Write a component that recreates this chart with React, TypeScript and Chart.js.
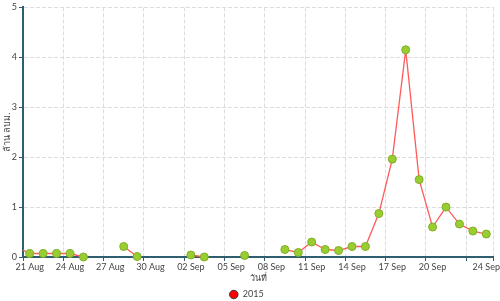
import React, { useEffect, useRef } from 'react';
import { Chart, registerables } from 'chart.js';

Chart.register(...registerables);

// ---- data ----
const SERIES_NAME = '2015';
const AXIS_START = '2015-08-21';
const AXIS_END = '2015-09-25';

const DATES: string[] = [
  '2015-08-20', '2015-08-21', '2015-08-22', '2015-08-23', '2015-08-24', '2015-08-25',
  '2015-08-26', '2015-08-27', '2015-08-28', '2015-08-29', '2015-08-30', '2015-08-31',
  '2015-09-01', '2015-09-02', '2015-09-03', '2015-09-04', '2015-09-05', '2015-09-06',
  '2015-09-07', '2015-09-08', '2015-09-09', '2015-09-10', '2015-09-11', '2015-09-12',
  '2015-09-13', '2015-09-14', '2015-09-15', '2015-09-16', '2015-09-17', '2015-09-18',
  '2015-09-19', '2015-09-20', '2015-09-21', '2015-09-22', '2015-09-23', '2015-09-24',
];

const VALUES: (number | null)[] = [
  0.21, 0.07, 0.07, 0.07, 0.07, 0.0,
  null, null, 0.21, 0.01, null, null,
  null, 0.04, 0.0, null, null, 0.03,
  null, null, 0.15, 0.09, 0.3, 0.15,
  0.13, 0.21, 0.21, 0.87, 1.96, 4.15,
  1.55, 0.6, 1.0, 0.66, 0.52, 0.46,
];

const TICK_DATES: string[] = [
  '2015-08-21', '2015-08-24', '2015-08-27', '2015-08-30', '2015-09-02', '2015-09-05',
  '2015-09-08', '2015-09-11', '2015-09-14', '2015-09-17', '2015-09-20', '2015-09-23',
  '2015-09-24', '2015-09-25',
];
const TICK_LABELS: string[] = [
  '21 Aug', '24 Aug', '27 Aug', '30 Aug', '02 Sep', '05 Sep',
  '08 Sep', '11 Sep', '14 Sep', '17 Sep', '20 Sep', '',
  '24 Sep', '',
];
const LABEL_ONLY_TICK = '2015-09-24';

const Y_TICKS: number[] = [0, 1, 2, 3, 4, 5];
const X_TITLE = 'วันที่';
const Y_TITLE = 'ล้าน ลบม.';

// ---- helpers ----
const DAY = 86400000;
const dayOf = (d: string) => (Date.parse(d + 'T00:00:00Z') - Date.parse(AXIS_START + 'T00:00:00Z')) / DAY;
const NOON = 0.5;

const FONT = 'Lato, "Noto Sans", sans-serif';
const TEXT = '#444';
const AXIS = '#2f5f6e';
const GRID = '#dcdcdc';

export default function App() {
  const ref = useRef<HTMLCanvasElement | null>(null);

  useEffect(() => {
    document.body.style.margin = '0';
    const canvas = ref.current;
    if (!canvas) return;

    const points = DATES.map((d, i) => ({ x: dayOf(d) + NOON, y: VALUES[i] }));
    const labelOnly = dayOf(LABEL_ONLY_TICK);

    const chart = new Chart(canvas, {
      type: 'line',
      data: {
        datasets: [
          {
            label: SERIES_NAME,
            data: points as any,
            borderColor: '#ff5b5b',
            borderWidth: 1.3,
            pointRadius: 4,
            pointHoverRadius: 4,
            pointBackgroundColor: '#9acd32',
            pointBorderColor: '#7fae24',
            pointBorderWidth: 1,
            spanGaps: false,
            tension: 0,
            clip: { left: 0, top: 10, right: 10, bottom: 10 } as any,
          },
        ],
      },
      options: {
        animation: false,
        responsive: false,
        devicePixelRatio: 1,
        layout: { padding: { left: 0, top: 5, right: 7, bottom: -8 } },
        plugins: {
          tooltip: { enabled: false },
          legend: {
            position: 'bottom',
            labels: {
              usePointStyle: true,
              pointStyle: 'circle',
              boxHeight: 6,
              boxWidth: 9,
              padding: 4,
              color: TEXT,
              font: { family: FONT, size: 9 },
              generateLabels: (c: any) =>
                c.data.datasets.map((ds: any, i: number) => ({
                  text: ds.label,
                  fillStyle: '#ff0000',
                  strokeStyle: '#333',
                  lineWidth: 1,
                  pointStyle: 'circle',
                  hidden: false,
                  datasetIndex: i,
                  fontColor: TEXT,
                })),
            },
          },
        },
        scales: {
          x: {
            type: 'linear',
            min: dayOf(AXIS_START),
            max: dayOf(AXIS_END),
            afterBuildTicks: (s: any) => {
              s.ticks = TICK_DATES.map((d) => ({ value: dayOf(d) }));
            },
            afterFit: (s: any) => {
              s.height = 29;
            },
            ticks: {
              autoSkip: false,
              maxRotation: 0,
              minRotation: 0,
              labelOffset: 6.7,
              padding: 1,
              color: TEXT,
              font: { family: FONT, size: 9 },
              callback: (_v: any, i: number) => TICK_LABELS[i],
            },
            grid: {
              color: (c: any) =>
                c.tick && (c.tick.value === 0 || c.tick.value === labelOnly) ? 'rgba(0,0,0,0)' : GRID,
              tickColor: (c: any) => (c.tick && c.tick.value === labelOnly ? 'rgba(0,0,0,0)' : AXIS),
              tickLength: 4,
              lineWidth: 1,
            },
            border: { color: AXIS, width: 2, dash: [4, 2] },
            title: {
              display: true,
              text: X_TITLE,
              color: TEXT,
              font: { family: FONT, size: 9 },
              padding: { top: 0, bottom: 3 },
            },
          },
          y: {
            type: 'linear',
            min: Y_TICKS[0],
            max: Y_TICKS[Y_TICKS.length - 1],
            afterBuildTicks: (s: any) => {
              s.ticks = Y_TICKS.map((v) => ({ value: v }));
            },
            afterFit: (s: any) => {
              s.width = 23;
            },
            ticks: {
              padding: 2,
              color: TEXT,
              font: { family: FONT, size: 9 },
            },
            grid: {
              color: (c: any) => (c.tick && c.tick.value === 0 ? 'rgba(0,0,0,0)' : GRID),
              tickColor: AXIS,
              tickLength: 4,
              lineWidth: 1,
            },
            border: { color: AXIS, width: 2, dash: [4, 2] },
            title: {
              display: true,
              text: Y_TITLE,
              color: TEXT,
              font: { family: FONT, size: 9 },
              padding: { top: 2, bottom: 0 },
            },
          },
        },
      },
    });

    return () => chart.destroy();
  }, []);

  return (
    <div style={{ width: 500, height: 301 }}>
      <canvas ref={ref} width={500} height={301} style={{ display: 'block' }} />
    </div>
  );
}
